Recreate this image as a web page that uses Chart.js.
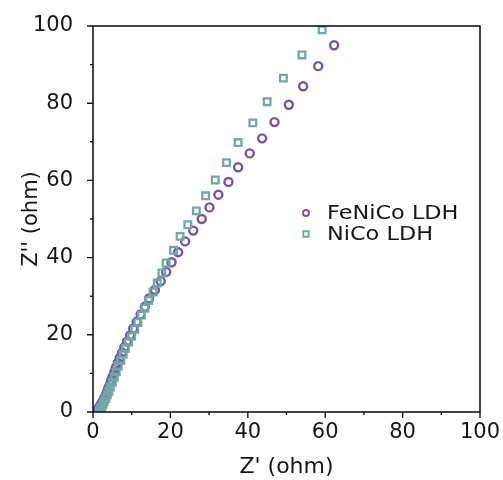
<!DOCTYPE html>
<html>
<head>
<meta charset="utf-8">
<script src="https://cdn.jsdelivr.net/npm/chart.js@4.4.0/dist/chart.umd.min.js"></script>
<style>
  html, body { margin: 0; padding: 0; background: #fff; }
  canvas { display: block; }
</style>
</head>
<body>
<canvas id="nyquist" width="503" height="480"></canvas>
<script>
// Nyquist data, Z' and Z'' in ohm
const feNiCoRe = [0.9, 1.2, 1.6, 1.9, 2.3, 2.7, 3.0, 3.4, 3.7, 4.0, 4.4, 4.7, 5.1, 5.5, 5.9,
    6.4, 6.9, 7.5, 8.1, 8.8, 9.6, 10.4, 11.3, 12.3, 13.4, 14.5, 16.0, 17.5, 18.9, 20.3,
    22.0, 23.8, 25.9, 28.1, 30.1, 32.4, 35.0, 37.5, 40.5, 43.7, 46.9, 50.6, 54.3, 58.2, 62.3];
const feNiCoIm = [0.3, 0.7, 1.2, 1.8, 2.4, 3.1, 3.8, 4.6, 5.4, 6.3, 7.2, 8.2, 9.2, 10.3, 11.5,
    12.7, 14.0, 15.4, 16.8, 18.3, 19.9, 21.6, 23.4, 25.3, 27.3, 29.4, 31.6, 33.9, 36.3, 38.8,
    41.4, 44.2, 47.0, 50.0, 53.0, 56.3, 59.6, 63.4, 67.0, 70.9, 75.1, 79.6, 84.4, 89.6, 95.0];

const niCoRe = [1.6, 1.8, 2.0, 2.3, 2.6, 2.9, 3.3, 3.7, 4.1, 4.5, 5.0, 5.5, 6.0, 6.5, 7.2,
    7.8, 8.4, 9.2, 10.0, 10.8, 11.6, 12.5, 13.4, 14.4, 15.5, 16.6, 17.8, 18.9, 20.8, 22.5,
    24.5, 26.7, 29.1, 31.6, 34.5, 37.5, 41.3, 45.0, 49.2, 54.0, 59.2];
const niCoIm = [0.2, 0.5, 0.9, 1.4, 2.0, 2.7, 3.5, 4.4, 5.4, 6.5, 7.7, 9.0, 10.4, 11.9, 13.4,
    15.0, 16.5, 18.1, 19.6, 21.4, 23.2, 25.1, 26.9, 28.9, 31.1, 33.4, 36.0, 38.6, 41.9, 45.5,
    48.5, 52.1, 56.0, 60.1, 64.6, 69.8, 74.9, 80.4, 86.5, 92.5, 99.0];

const seriesNames = ['FeNiCo LDH', 'NiCo LDH'];
const majorTicks = [0, 20, 40, 60, 80, 100];
const minorTicks = [10, 30, 50, 70, 90];

const FONT = 'DejaVu Sans';
const INK = '#161616';
const PURPLE = '#7b529f';
const TEAL = '#6fa8a7';

const toPoints = (xs, ys) => xs.map((x, i) => ({ x: x, y: ys[i] }));

// frame, tick marks and the inset legend
const framePlugin = {
    id: 'frame',
    afterDraw(chart) {
        const ctx = chart.ctx;
        const { left, right, top, bottom } = chart.chartArea;
        const xs = chart.scales.x, ys = chart.scales.y;
        ctx.save();
        ctx.strokeStyle = INK;
        ctx.lineWidth = 1.6;
        ctx.strokeRect(left, top, right - left, bottom - top);

        ctx.lineWidth = 1.4;
        ctx.beginPath();
        const tick = (v, len) => {
            const px = xs.getPixelForValue(v);
            ctx.moveTo(px, bottom);
            ctx.lineTo(px, bottom + len);
            const py = ys.getPixelForValue(v);
            ctx.moveTo(left, py);
            ctx.lineTo(left - len, py);
        };
        majorTicks.forEach(v => tick(v, 6));
        minorTicks.forEach(v => tick(v, 3));
        ctx.stroke();

        // legend
        const lx = 306, ly = [213, 234];
        chart.data.datasets.forEach((ds, i) => {
            ctx.lineWidth = 1.9;
            ctx.strokeStyle = ds.borderColor;
            ctx.fillStyle = 'rgba(0,0,0,0)';
            Chart.helpers.drawPoint(ctx, {
                pointStyle: ds.pointStyle,
                radius: ds.pointStyle === 'rect' ? 3.8 : 3.0,
                rotation: 0,
                borderWidth: 1.9
            }, lx, ly[i]);
            ctx.fillStyle = INK;
            ctx.font = '20px "' + FONT + '"';
            ctx.textBaseline = 'middle';
            ctx.textAlign = 'left';
            ctx.save();
            ctx.translate(327, ly[i] + 1);
            ctx.scale(1.12, 1);
            ctx.fillText(ds.label, 0, 0);
            ctx.restore();
        });
        ctx.restore();
    }
};

function initChart() {
    Chart.defaults.font.family = FONT;
    Chart.defaults.color = INK;

    const ctx = document.getElementById('nyquist').getContext('2d');
    new Chart(ctx, {
        type: 'scatter',
        data: {
            datasets: [{
                label: seriesNames[0],
                data: toPoints(feNiCoRe, feNiCoIm),
                pointStyle: 'circle',
                pointRadius: 4,
                borderWidth: 2.4,
                borderColor: PURPLE,
                backgroundColor: 'rgba(0,0,0,0)',
                order: 1
            }, {
                label: seriesNames[1],
                data: toPoints(niCoRe, niCoIm),
                pointStyle: 'rect',
                pointRadius: 4.7,
                borderWidth: 2.3,
                borderColor: TEAL,
                backgroundColor: 'rgba(0,0,0,0)',
                order: 0
            }]
        },
        options: {
            responsive: false,
            animation: false,
            devicePixelRatio: 1,
            layout: { padding: { left: 0, right: 23, top: 26, bottom: 0 } },
            plugins: {
                legend: { display: false },
                tooltip: { enabled: false }
            },
            scales: {
                x: {
                    type: 'linear',
                    min: 0,
                    max: 100,
                    afterFit: (scale) => { scale.height = 68; },
                    afterBuildTicks: (scale) => { scale.ticks = majorTicks.map(v => ({ value: v })); },
                    grid: { display: false },
                    border: { display: false },
                    ticks: { font: { size: 21 }, padding: 0, maxRotation: 0 },
                    title: {
                        display: true,
                        text: "Z' (ohm)",
                        font: { size: 22 },
                        padding: { top: 0, bottom: 0 }
                    }
                },
                y: {
                    type: 'linear',
                    min: 0,
                    max: 100,
                    afterFit: (scale) => { scale.width = 93; },
                    afterBuildTicks: (scale) => { scale.ticks = majorTicks.map(v => ({ value: v })); },
                    grid: { display: false },
                    border: { display: false },
                    ticks: { font: { size: 21 }, padding: 12 },
                    title: {
                        display: true,
                        text: "Z'' (ohm)",
                        font: { size: 21 },
                        padding: { top: 19, bottom: 0 }
                    }
                }
            }
        },
        plugins: [framePlugin]
    });
}

initChart();
</script>
</body>
</html>
